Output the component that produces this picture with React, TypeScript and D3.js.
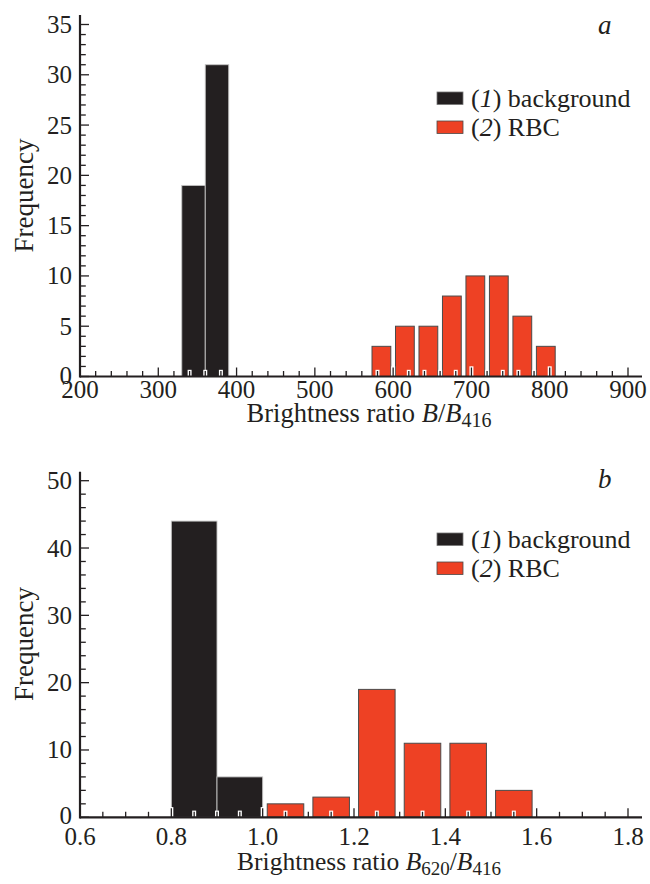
import React from "react";
import * as d3 from "d3";

// ---------- DATA ----------
const binWidthA = 30;
const bgStartsA = [330, 360];
const bgCountsA = [19, 31];
const rbcStartsA = [570, 600, 630, 660, 690, 720, 750, 780];
const rbcCountsA = [3, 5, 5, 8, 10, 10, 6, 3];
const xTicksA = [200, 300, 400, 500, 600, 700, 800, 900];
const yTicksA = [0, 5, 10, 15, 20, 25, 30, 35];

const binWidthB = 0.1;
const bgStartsB = [0.8, 0.9];
const bgCountsB = [44, 6];
const rbcStartsB = [1.0, 1.1, 1.2, 1.3, 1.4, 1.5];
const rbcCountsB = [2, 3, 19, 11, 11, 4];
const xTicksB = [0.6, 0.8, 1.0, 1.2, 1.4, 1.6, 1.8];
const yTicksB = [0, 10, 20, 30, 40, 50];

const legendLabels = ["background", "RBC"];
const legendNums = ["1", "2"];

// ---------- STYLE ----------
const INK = "#231f20";
const RED = "#ee4124";
const FONT = '"Liberation Serif", "DejaVu Serif", serif';
const ts = (size: number, italic = false): React.CSSProperties => ({
  fontFamily: FONT,
  fontSize: size + "px",
  fontStyle: italic ? "italic" : "normal",
});

type PanelProps = {
  xDomain: [number, number];
  yDomain: [number, number];
  yRange: [number, number];
  yAxisTop: number;
  xMinorStep: number;
  yMinorStep: number;
  xTicks: number[];
  yTicks: number[];
  xFmt: (v: number) => string;
  binWidth: number;
  bgStarts: number[];
  bgCounts: number[];
  rbcStarts: number[];
  rbcCounts: number[];
  letter: string;
  letterY: number;
  legendY: number;
  tickLabelY: number;
  titleY: number;
  titleX: number;
  titleSize: number;
  subA: string | null;
};

function steps(a: number, b: number, step: number): number[] {
  const n = Math.round((b - a) / step);
  return d3.range(n + 1).map((i) => +(a + i * step).toFixed(6));
}

function Panel(p: PanelProps) {
  const x = d3.scaleLinear().domain(p.xDomain).range([80, 628]);
  const y = d3.scaleLinear().domain(p.yDomain).range(p.yRange);
  const x0 = 80;
  const xEnd = 642;
  const y0 = y(0);
  const xMinor = steps(p.xDomain[0], p.xDomain[1], p.xMinorStep);
  const yMinor = steps(p.yDomain[0], p.yDomain[1], p.yMinorStep);
  const isMajorX = (v: number) => p.xTicks.some((t) => Math.abs(t - v) < 1e-6);
  const isMajorY = (v: number) => p.yTicks.some((t) => Math.abs(t - v) < 1e-6);
  const pad = (x(p.binWidth) - x(0)) * 0.1;
  const T = p.titleSize;
  const S = Math.round(T * 0.74);

  return (
    <g>
      {p.bgStarts.map((s, i) => (
        <rect
          key={"bg" + i}
          x={x(s)}
          y={y(p.bgCounts[i])}
          width={x(s + p.binWidth) - x(s)}
          height={y0 - y(p.bgCounts[i])}
          fill={INK}
          stroke="#c4c4c4"
          strokeWidth={0.9}
        />
      ))}
      {p.rbcStarts.map((s, i) => (
        <rect
          key={"rbc" + i}
          x={x(s) + pad}
          y={y(p.rbcCounts[i])}
          width={x(s + p.binWidth) - x(s) - 2 * pad}
          height={y0 - y(p.rbcCounts[i])}
          fill={RED}
          stroke="#4a4a4a"
          strokeWidth={1}
        />
      ))}
      {xMinor.map((v, i) => {
        const len = isMajorX(v) ? 9 : 5.5;
        const xx = x(v);
        return (
          <g key={"xt" + i}>
            <rect x={xx - 2} y={y0 - len - 1.2} width={4} height={len + 1.2} fill="#fff" />
            <line x1={xx} x2={xx} y1={y0} y2={y0 - len} stroke={INK} strokeWidth={1.3} />
          </g>
        );
      })}
      {yMinor.map((v, i) => {
        const len = isMajorY(v) ? 9 : 5.8;
        const yy = y(v);
        return <line key={"yt" + i} x1={x0} x2={x0 + len} y1={yy} y2={yy} stroke={INK} strokeWidth={1.3} />;
      })}
      <line x1={x0} x2={xEnd} y1={y0} y2={y0} stroke={INK} strokeWidth={2.2} />
      <line x1={x0} x2={x0} y1={y0 + 1.1} y2={p.yAxisTop} stroke={INK} strokeWidth={2.2} />
      {p.xTicks.map((v, i) => (
        <text key={"xl" + i} x={x(v)} y={p.tickLabelY} textAnchor="middle" style={ts(25)} fill={INK}>
          {p.xFmt(v)}
        </text>
      ))}
      {p.yTicks.map((v, i) => (
        <text key={"yl" + i} x={72} y={y(v) + (i === 0 ? 7 : 8.5)} textAnchor="end" style={ts(25)} fill={INK}>
          {String(v)}
        </text>
      ))}
      <text
        transform={`translate(33,${(p.yRange[0] + p.yRange[1]) / 2 - 5}) rotate(-90)`}
        textAnchor="middle"
        style={ts(27)}
        fill={INK}
      >
        Frequency
      </text>
      <text x={p.titleX} y={p.titleY} textAnchor="middle" style={ts(T)} fill={INK}>
        Brightness ratio{" "}
        {p.subA ? (
          <>
            <tspan style={ts(T, true)}>B</tspan>
            <tspan style={ts(S)} dy={5}>{p.subA}</tspan>
            <tspan dy={-5}>/</tspan>
          </>
        ) : (
          <>
            <tspan style={ts(T, true)}>B</tspan>
            <tspan>/</tspan>
          </>
        )}
        <tspan style={ts(T, true)}>B</tspan>
        <tspan style={ts(S)} dy={5}>416</tspan>
      </text>
      <text x={598} y={p.letterY} style={ts(27, true)} fill={INK}>
        {p.letter}
      </text>
      {legendLabels.map((lab, i) => (
        <g key={"lg" + i} transform={`translate(437,${p.legendY + i * 29})`}>
          <rect
            x={0}
            y={-15}
            width={26}
            height={12.5}
            fill={i === 0 ? INK : RED}
            stroke={i === 0 ? "#777" : "#4a4a4a"}
            strokeWidth={0.8}
          />
          <text x={34} y={0} style={ts(26)} fill={INK}>
            (<tspan style={ts(26, true)}>{legendNums[i]}</tspan>) {lab}
          </text>
        </g>
      ))}
    </g>
  );
}

export default function App() {
  return (
    <svg width={650} height={884} style={{ display: "block", position: "absolute", left: 0, top: 0, background: "#fff" }}>
      <rect width={650} height={884} fill="#fff" />
      <Panel
        xDomain={[200, 900]}
        yDomain={[0, 35]}
        yRange={[376.5, 24.5]}
        yAxisTop={15}
        xMinorStep={20}
        yMinorStep={1}
        xTicks={xTicksA}
        yTicks={yTicksA}
        xFmt={(v) => String(v)}
        binWidth={binWidthA}
        bgStarts={bgStartsA}
        bgCounts={bgCountsA}
        rbcStarts={rbcStartsA}
        rbcCounts={rbcCountsA}
        letter="a"
        letterY={34}
        legendY={107}
        tickLabelY={398}
        titleY={422}
        titleX={369}
        titleSize={26.5}
        subA={null}
      />
      <Panel
        xDomain={[0.6, 1.8]}
        yDomain={[0, 50]}
        yRange={[817.3, 480.7]}
        yAxisTop={471.7}
        xMinorStep={0.05}
        yMinorStep={2}
        xTicks={xTicksB}
        yTicks={yTicksB}
        xFmt={(v) => v.toFixed(1)}
        binWidth={binWidthB}
        bgStarts={bgStartsB}
        bgCounts={bgCountsB}
        rbcStarts={rbcStartsB}
        rbcCounts={rbcCountsB}
        letter="b"
        letterY={488}
        legendY={548}
        tickLabelY={845}
        titleY={870}
        titleX={369}
        titleSize={25.5}
        subA="620"
      />
    </svg>
  );
}
